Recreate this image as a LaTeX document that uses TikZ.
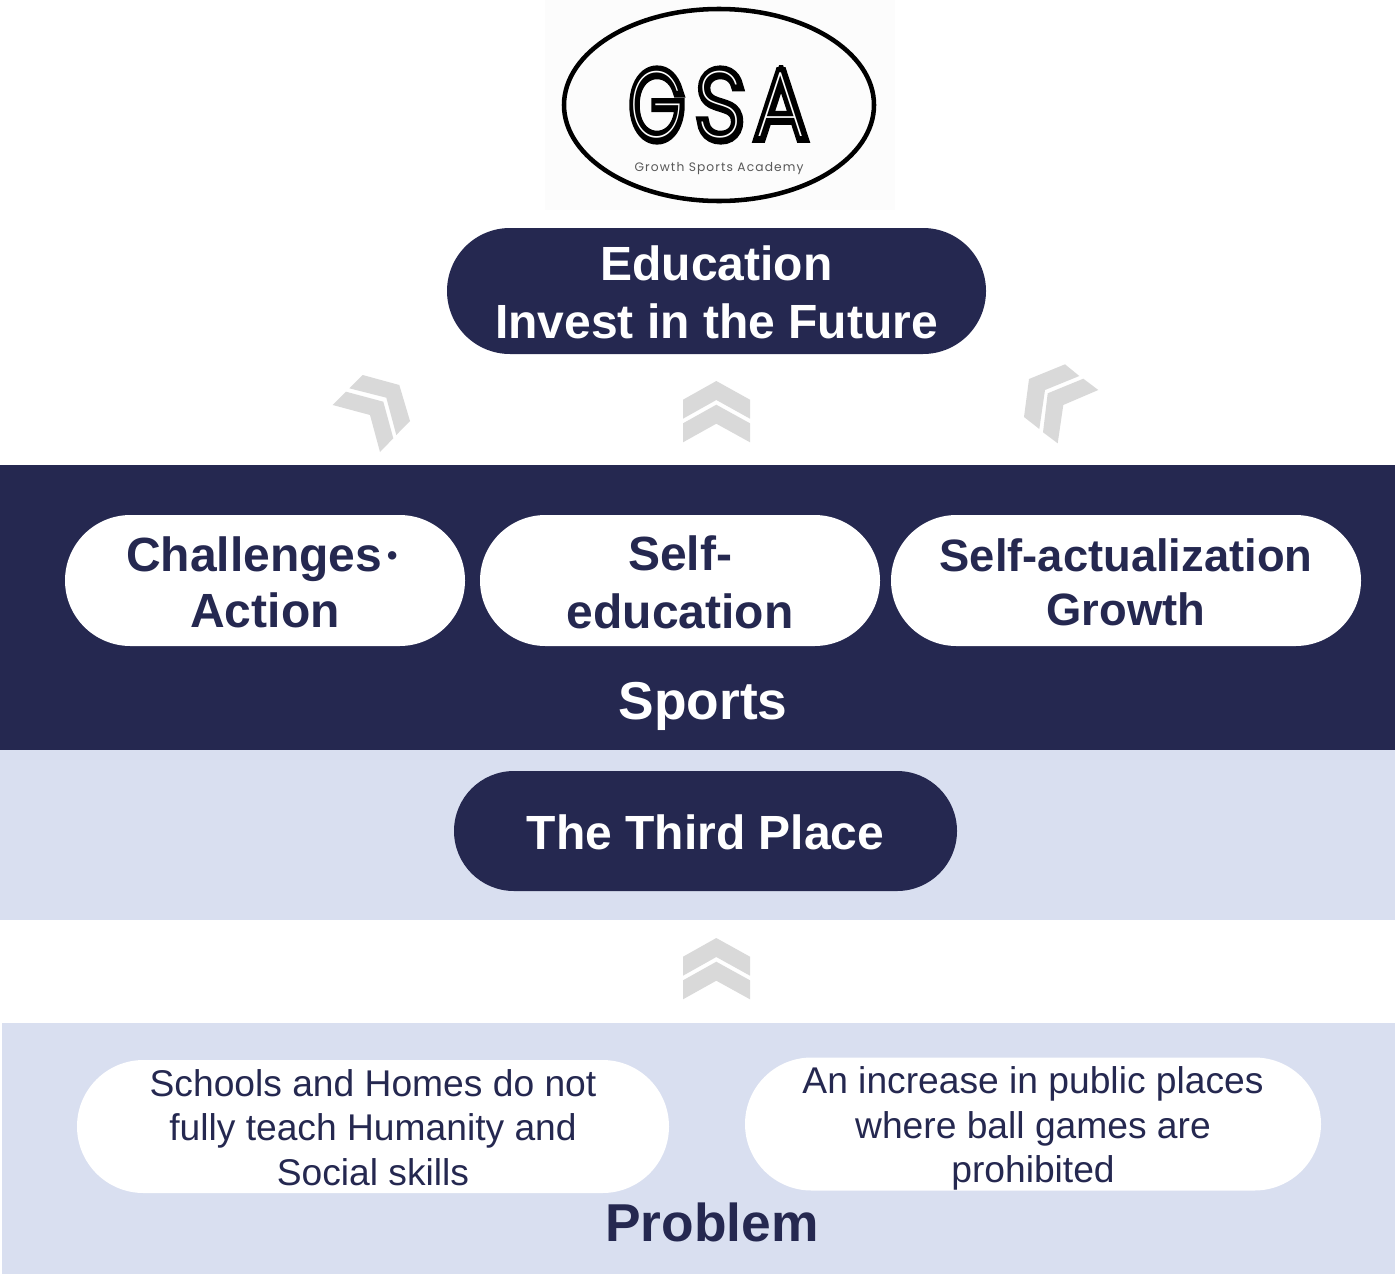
\documentclass[tikz,border=0pt]{standalone}
\usepackage{fontspec}
\setmainfont{Liberation Sans}
\newfontfamily\logoheavy{Poppins Thin}[FakeBold=13]
\newfontfamily\logohair{Poppins Thin}
\newfontfamily\logosub{Poppins}[LetterSpace=9]
\usetikzlibrary{shapes.misc}
\definecolor{navy}{HTML}{252850}
\definecolor{pale}{HTML}{D9DFF0}
\definecolor{chev}{HTML}{D9D9D9}
\newcommand{\toproom}[1]{\rule{0pt}{#1}}
\tikzset{
 pill/.style={rounded rectangle,rounded rectangle arc length=180,inner sep=0pt,align=center},
 navypill/.style={pill,fill=navy,text=white,font=\bfseries\fontsize{36}{43.5}\selectfont},
 whitepill/.style={pill,fill=white,text=navy,font=\bfseries\fontsize{36}{42}\selectfont},
 softpill/.style={pill,fill=white,text=navy,font=\fontsize{27.9}{33.6}\selectfont},
 softtext/.style={inner sep=0pt,align=center,text=navy,font=\fontsize{27.9}{33.6}\selectfont},
 bandlabel/.style={inner sep=0pt,font=\bfseries\fontsize{40}{46}\selectfont},
 chevron/.style={fill=chev,draw=none},
 logoblack/.style={inner sep=0pt,transform shape,font=\logoheavy\fontsize{70}{70}\selectfont},
 logowhite/.style={inner sep=0pt,transform shape,text=white,font=\logohair\fontsize{70}{70}\selectfont},
}
\begin{document}
\begin{tikzpicture}[x=.75pt,y=-.75pt]
\useasboundingbox (0,0) rectangle (1395,1274);
% bands
\fill[navy] (0,465) rectangle (1395,750);
\fill[pale] (0,750) rectangle (1395,920);
\fill[pale] (2,1023) rectangle (1395,1274);
% logo
\fill[white!99!black] (545,0) rectangle (895,210);
\draw[line width=3.4pt,black] (719,105) ellipse [x radius=155,y radius=96];
\begin{scope}
\clip (620,65.5) rectangle (820,146);
\node[logoblack,xscale=.74] (g) at (657,105) {G};
\node[logoblack,xscale=.88] (s) at (720,105) {S};
\node[logoblack,xscale=.86] (a) at (781,105) {A};
\node[logowhite,xscale=.74] (gw) at (657,105) {G};
\node[logowhite,xscale=.88] (sw) at (720,105) {S};
\node[logowhite,xscale=.86] (aw) at (781,105) {A};
\end{scope}
\node[inner sep=0pt,text=black!65,font=\logosub\fontsize{9.2}{11}\selectfont] (sub) at (719,168.5) {Growth Sports Academy};
% top pill
\node[navypill,minimum width=404.25pt,minimum height=94.5pt] (edu) at (716.5,291) {\toproom{27.7pt}Education\\Invest in the Future};
% chevrons
\fill[chevron] (362.7,375)--(399.3,385)--(410,421)--(396.3,435)--(386.3,397.7)--(349.3,388.3)--cycle;
\fill[chevron] (346,391.7)--(383.3,401.7)--(393.3,438.3)--(380,452)--(370,415)--(332.7,405)--cycle;
\fill[chevron] (716.3,381)--(750,399.7)--(750,418.7)--(716.3,400)--(683,418.7)--(683,399.7)--cycle;
\fill[chevron] (716.3,404.7)--(750,423.3)--(750,442.3)--(716.3,423.7)--(683,442.3)--(683,423.3)--cycle;
\fill[chevron] (1065,364.3)--(1079.3,376)--(1045,390)--(1039.3,429)--(1024,417)--(1029,379)--cycle;
\fill[chevron] (1083.3,378.7)--(1098.3,390)--(1063.3,405)--(1057.7,443.3)--(1043,432.3)--(1047.7,393.3)--cycle;
\fill[chevron] (716.3,938)--(750,956.7)--(750,975.7)--(716.3,957)--(683,975.7)--(683,956.7)--cycle;
\fill[chevron] (716.3,961.7)--(750,980.3)--(750,999.3)--(716.3,980.7)--(683,999.3)--(683,980.3)--cycle;
% sports band
\node[whitepill,minimum width=300pt,minimum height=98.25pt] (chal) at (265,580.5) {\toproom{29.2pt}Challenges{\fontsize{22}{22}\selectfont\,\raisebox{5pt}{•}}\kern5pt\\Action};
\node[whitepill,font=\bfseries\fontsize{36}{43.5}\selectfont,minimum width=300pt,minimum height=98.25pt] (self) at (680,580.5) {\toproom{28.6pt}Self-\\education};
\node[whitepill,font=\bfseries\fontsize{34}{40.5}\selectfont,minimum width=352.5pt,minimum height=98.25pt] (actu) at (1126,580.5) {\toproom{27.8pt}Self-actualization\\Growth};
\node[bandlabel,text=white] (sports) at (703,706) {Sports};
% third place
\node[navypill,minimum width=377.25pt,minimum height=90pt] (third) at (705.5,831) {\toproom{27.7pt}The Third Place};
% problem
\node[softpill,minimum width=444pt,minimum height=99.75pt] (schools) at (373,1126.5) {\toproom{21.8pt}Schools and Homes do not\\fully teach Humanity and\\Social skills};
\node[softpill,minimum width=432pt,minimum height=99.75pt] (public) at (1033,1124) {};
\node[softtext] (publictext) at (1033,1128.5) {An increase in public places\\where ball games are\\prohibited};
\node[bandlabel,text=navy] (problem) at (712,1222) {Problem};
\end{tikzpicture}
\end{document}
